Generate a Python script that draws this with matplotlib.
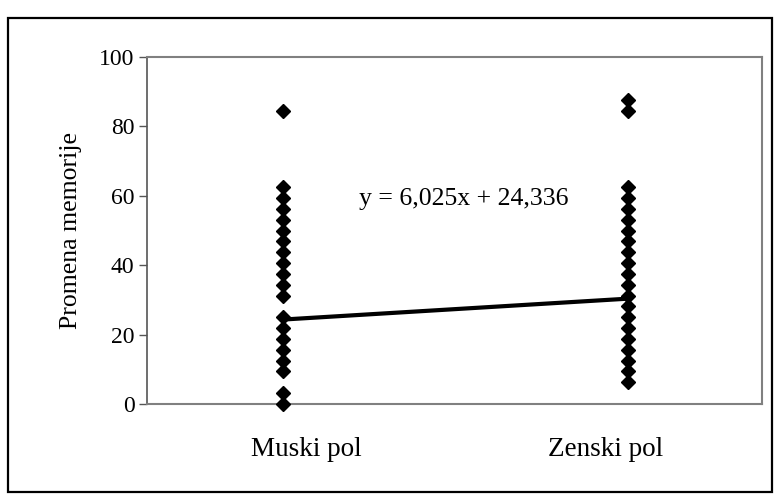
import matplotlib
matplotlib.use("Agg")
import matplotlib.pyplot as plt
from matplotlib.patches import Rectangle

plt.rcParams['font.family'] = ['Liberation Serif', 'DejaVu Serif']

# Memory change scores per group
categories = ["Muski pol", "Zenski pol"]
muski = [84.4, 62.5, 59.4, 56.25, 53.1, 50.0, 46.9, 43.75, 40.6, 37.5, 34.4,
         31.25, 25.0, 21.9, 18.75, 15.6, 12.5, 9.4, 3.1, 0.0]
zenski = [87.5, 84.4, 62.5, 59.4, 56.25, 53.1, 50.0, 46.9, 43.75, 40.6, 37.5,
          34.4, 31.25, 28.1, 25.0, 21.9, 18.75, 15.6, 12.5, 9.4, 6.25]
y_ticks = [0, 20, 40, 60, 80, 100]

# Linear trend (group coded 0 / 1)
slope = 6.025
intercept = 24.336
trend_label = "y = 6,025x + 24,336"

W, H = 779, 495
fig = plt.figure(figsize=(W / 100, H / 100), dpi=100)
ax = fig.add_axes([147 / W, 1 - 404 / H, (762 - 147) / W, (404 - 57) / H])

codes = [0, 1]
ax.plot([codes[0]] * len(muski), muski, linestyle='none', marker='D',
        ms=7, color='black', zorder=3, clip_on=False)
ax.plot([codes[1]] * len(zenski), zenski, linestyle='none', marker='D',
        ms=7, color='black', zorder=3, clip_on=False)

trend_y = [intercept + slope * c for c in codes]
ax.plot(codes, trend_y, color='black', lw=3, solid_capstyle='butt', zorder=4)

ax.text(0.525, 59, trend_label, ha='center', va='center', fontsize=18.5)

ax.set_xlim(-0.394, 1.388)
ax.set_ylim(0, 100)
ax.set_yticks(y_ticks)
ax.tick_params(axis='y', direction='out', length=6, width=1, color='#555555',
               labelsize=17, pad=3)
ax.set_xticks([])
for s in ('top', 'right', 'bottom'):
    ax.spines[s].set_color('#808080')
    ax.spines[s].set_linewidth(1.5)
ax.spines['left'].set_color('#555555')
ax.spines['left'].set_linewidth(1.2)

ax.set_ylabel("Promena memorije", fontsize=18.5, labelpad=12)

# Category labels under the axis
label_pos = [306, 606]
for name, px in zip(categories, label_pos):
    fig.text(px / W, 1 - 449 / H, name, ha='center', va='center', fontsize=19.5)

# Outer chart frame
fig.patches.append(Rectangle((8 / W, 1 - 492 / H), (772 - 8) / W, (492 - 18) / H,
                             transform=fig.transFigure, fill=False,
                             edgecolor='black', lw=1.6))

fig.savefig("out.png", dpi=100)
